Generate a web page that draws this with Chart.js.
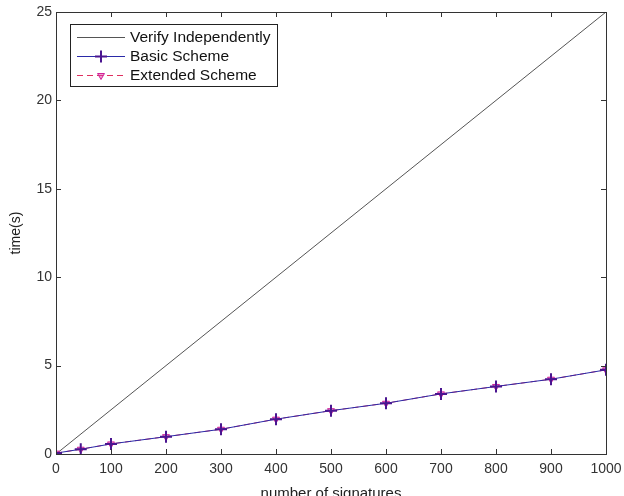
<!DOCTYPE html>
<html>
<head>
<meta charset="utf-8">
<script src="https://cdn.jsdelivr.net/npm/chart.js@4"></script>
<style>
  html, body { margin: 0; padding: 0; background: #fff; overflow: hidden; }
  #wrap { width: 624px; height: 504px; }
</style>
</head>
<body>
<div id="wrap"><canvas id="c" width="624" height="504"></canvas></div>
<script>
// Number of signatures verified
const signatures = [0, 45, 100, 200, 300, 400, 500, 600, 700, 800, 900, 1000];
// Verification time (s) for the batch schemes
const basicTime    = [0.05, 0.27, 0.57, 0.98, 1.40, 1.97, 2.45, 2.87, 3.40, 3.82, 4.23, 4.76];
const extendedTime = [0.05, 0.27, 0.57, 0.98, 1.40, 1.97, 2.45, 2.87, 3.40, 3.82, 4.23, 4.76];
// Verifying each signature on its own
const independentN    = [0, 1000];
const independentTime = [0, 25];

const xTicks = [0, 100, 200, 300, 400, 500, 600, 700, 800, 900, 1000];
const yTicks = [0, 5, 10, 15, 20, 25];

const FONT = "'Liberation Sans', Arial, sans-serif";
const pts = (xs, ys) => xs.map((x, i) => ({ x, y: ys[i] }));

const seriesNames = ['Verify Independently', 'Basic Scheme', 'Extended Scheme'];

// Box frame with inward ticks on all four sides
const framePlugin = {
  id: 'frame',
  afterDatasetsDraw(chart) {
    const { ctx, chartArea: a, scales: { x, y } } = chart;
    ctx.save();
    ctx.strokeStyle = '#333';
    ctx.lineWidth = 1;
    ctx.strokeRect(Math.round(a.left) + 0.5, Math.round(a.top) + 0.5,
                   Math.round(a.right - a.left), Math.round(a.bottom - a.top));
    const L = 5;
    ctx.beginPath();
    xTicks.forEach(v => {
      const px = Math.round(x.getPixelForValue(v)) + 0.5;
      ctx.moveTo(px, a.bottom); ctx.lineTo(px, a.bottom - L);
      ctx.moveTo(px, a.top); ctx.lineTo(px, a.top + L);
    });
    yTicks.forEach(v => {
      const py = Math.round(y.getPixelForValue(v)) + 0.5;
      ctx.moveTo(a.left, py); ctx.lineTo(a.left + L, py);
      ctx.moveTo(a.right, py); ctx.lineTo(a.right - L, py);
    });
    ctx.stroke();
    ctx.restore();
  },
  afterDraw(chart) {
    // Legend box in the upper-left corner of the axes
    const { ctx } = chart;
    const box = { x: 70.5, y: 24.5, w: 207, h: 62 };
    ctx.save();
    ctx.fillStyle = '#fff';
    ctx.fillRect(box.x, box.y, box.w, box.h);
    ctx.strokeStyle = '#222';
    ctx.lineWidth = 1;
    ctx.strokeRect(box.x, box.y, box.w, box.h);
    const rows = [37.5, 56.5, 75.5];
    chart.data.datasets.forEach((ds, i) => {
      const yy = rows[i];
      ctx.strokeStyle = ds.borderColor;
      ctx.lineWidth = 1;
      ctx.setLineDash(ds.borderDash || []);
      ctx.beginPath();
      ctx.moveTo(77, yy); ctx.lineTo(125, yy);
      ctx.stroke();
      ctx.setLineDash([]);
      if (ds.pointRadius > 0) {
        ctx.strokeStyle = ds.pointBorderColor;
        ctx.fillStyle = ds.pointBackgroundColor;
        ctx.lineWidth = ds.pointBorderWidth || 1;
        Chart.helpers.drawPoint(ctx, {
          pointStyle: ds.pointStyle,
          radius: ds.pointRadius,
          rotation: ds.pointRotation || 0,
          borderWidth: ds.pointBorderWidth || 1
        }, 101, yy);
      }
      ctx.fillStyle = '#111';
      ctx.font = '15.5px ' + FONT;
      ctx.textBaseline = 'middle';
      ctx.fillText(seriesNames[i], 130, yy);
    });
    ctx.restore();
  }
};

new Chart(document.getElementById('c'), {
  type: 'line',
  data: {
    datasets: [
      {
        label: seriesNames[0],
        data: pts(independentN, independentTime),
        borderColor: '#555',
        borderWidth: 1,
        pointRadius: 0,
        order: 3
      },
      {
        label: seriesNames[1],
        data: pts(signatures, basicTime),
        borderColor: '#2a2aa8',
        borderWidth: 1,
        pointStyle: 'cross',
        pointRadius: 6,
        pointBorderWidth: 2,
        pointBorderColor: '#4a1590',
        pointBackgroundColor: '#4a1590',
        order: 1
      },
      {
        label: seriesNames[2],
        data: pts(signatures, extendedTime),
        borderColor: '#e03060',
        borderWidth: 1,
        borderDash: [6, 4],
        pointStyle: 'triangle',
        pointRotation: 180,
        pointRadius: 4,
        pointBorderWidth: 1,
        pointBorderColor: '#d0209a',
        pointBackgroundColor: 'rgba(220,60,160,0.5)',
        order: 2
      }
    ]
  },
  options: {
    responsive: false,
    animation: false,
    devicePixelRatio: 1,
    layout: { padding: { left: 0, top: 12, right: 18, bottom: 0 } },
    plugins: { legend: { display: false }, tooltip: { enabled: false } },
    elements: { line: { tension: 0 } },
    scales: {
      x: {
        type: 'linear',
        min: 0, max: 1000,
        afterBuildTicks: s => { s.ticks = xTicks.map(v => ({ value: v })); },
        afterFit: s => { s.height = 50; s.paddingLeft = 0; s.paddingRight = 0; },
        grid: { display: true, drawOnChartArea: false, drawTicks: false },
        border: { display: false },
        ticks: { color: '#333', font: { family: FONT, size: 14 }, padding: 7, maxRotation: 0,
                 callback: v => String(v) },
        title: { display: true, text: 'number of signatures', color: '#222', font: { family: FONT, size: 15 }, padding: { top: 0, bottom: 1 } }
      },
      y: {
        type: 'linear',
        min: 0, max: 25,
        afterBuildTicks: s => { s.ticks = yTicks.map(v => ({ value: v })); },
        afterFit: s => { s.width = 56; s.paddingTop = 0; s.paddingBottom = 0; },
        grid: { display: true, drawOnChartArea: false, drawTicks: false },
        border: { display: false },
        ticks: { color: '#333', font: { family: FONT, size: 14 }, padding: 4, callback: v => String(v) },
        title: { display: true, text: 'time(s)', color: '#222', font: { family: FONT, size: 14 }, padding: { top: 8, bottom: 0 } }
      }
    }
  },
  plugins: [framePlugin]
});
</script>
</body>
</html>
